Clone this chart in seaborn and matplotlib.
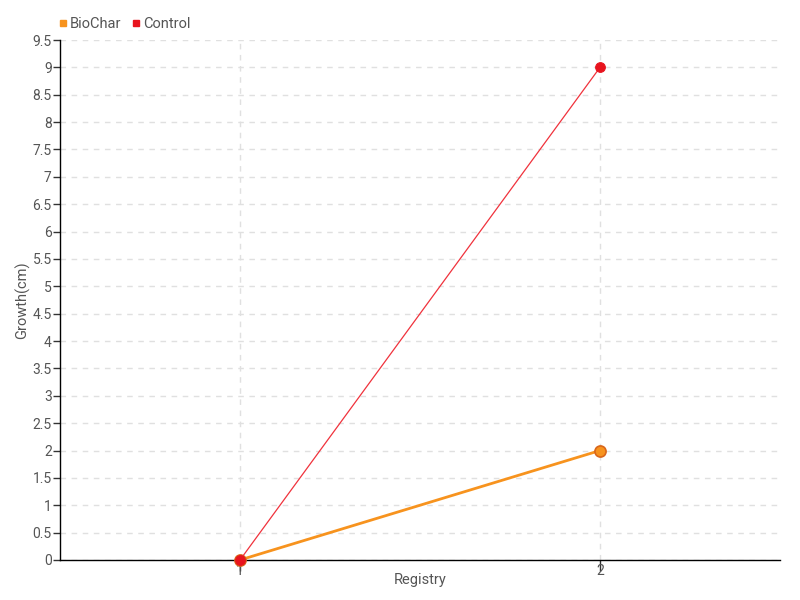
import pandas as pd
import seaborn as sns
import matplotlib.pyplot as plt
from matplotlib.lines import Line2D

registry = [1, 2]
biochar = [0, 2]
control = [0, 9]

df = pd.DataFrame({
    'Registry': registry * 2,
    'Growth': biochar + control,
    'Group': ['BioChar'] * 2 + ['Control'] * 2,
})

sns.set_style("white")
plt.rcParams['font.family'] = ['Roboto', 'DejaVu Sans']

fig = plt.figure(figsize=(8, 6), dpi=100)
ax = fig.add_axes([0.075, 0.0667, 0.9, 0.8666])

bio = df[df['Group'] == 'BioChar']
ctl = df[df['Group'] == 'Control']
sns.lineplot(data=bio, x='Registry', y='Growth', ax=ax, color='#f7931e', linewidth=2,
             marker='o', markersize=8, markerfacecolor='#f7931e', markeredgecolor='#d9661a',
             markeredgewidth=1.2, zorder=3, clip_on=False)
sns.lineplot(data=ctl, x='Registry', y='Growth', ax=ax, color='#f0323c', linewidth=0.9,
             marker='o', markersize=7, markerfacecolor='#e8141e', markeredgecolor='#e8141e',
             zorder=4, clip_on=False)

ax.set_xlim(0.5, 2.5)
ax.set_ylim(0, 9.5)
ax.set_xticks(registry)
ax.set_yticks([i * 0.5 for i in range(20)])
ax.set_yticklabels([f"{i * 0.5:g}" for i in range(20)])
ax.grid(True, color='#e0e0e0', linestyle=(0, (4, 4)), linewidth=1)
for s in ['top', 'right']:
    ax.spines[s].set_visible(False)
for s in ['left', 'bottom']:
    ax.spines[s].set_color('black')
    ax.spines[s].set_linewidth(1)
ax.tick_params(axis='both', colors='#555555', labelsize=10, length=5, width=1, direction='out',
               left=True, bottom=True, pad=1)
ax.tick_params(axis='both', color='#333333')
ax.tick_params(axis='x', length=8, pad=-5)
ax.set_xlabel('Registry', color='#555555', fontsize=10.5)
ax.set_ylabel('Growth(cm)', color='#555555', fontsize=10.5)
ax.xaxis.set_label_coords(0.5, -0.026)
ax.yaxis.set_label_coords(-0.042, 0.5)

handles = [Line2D([], [], marker='s', linestyle='', color='#f7931e', markersize=5),
           Line2D([], [], marker='s', linestyle='', color='#e8141e', markersize=5)]
fig.legend(handles, ['BioChar', 'Control'], loc='upper left', bbox_to_anchor=(0.053, 0.993),
           ncol=2, frameon=False, fontsize=10.5, handletextpad=0.0, columnspacing=0.5,
           handlelength=1, labelcolor='#555555')

plt.savefig('out.png', dpi=100)
